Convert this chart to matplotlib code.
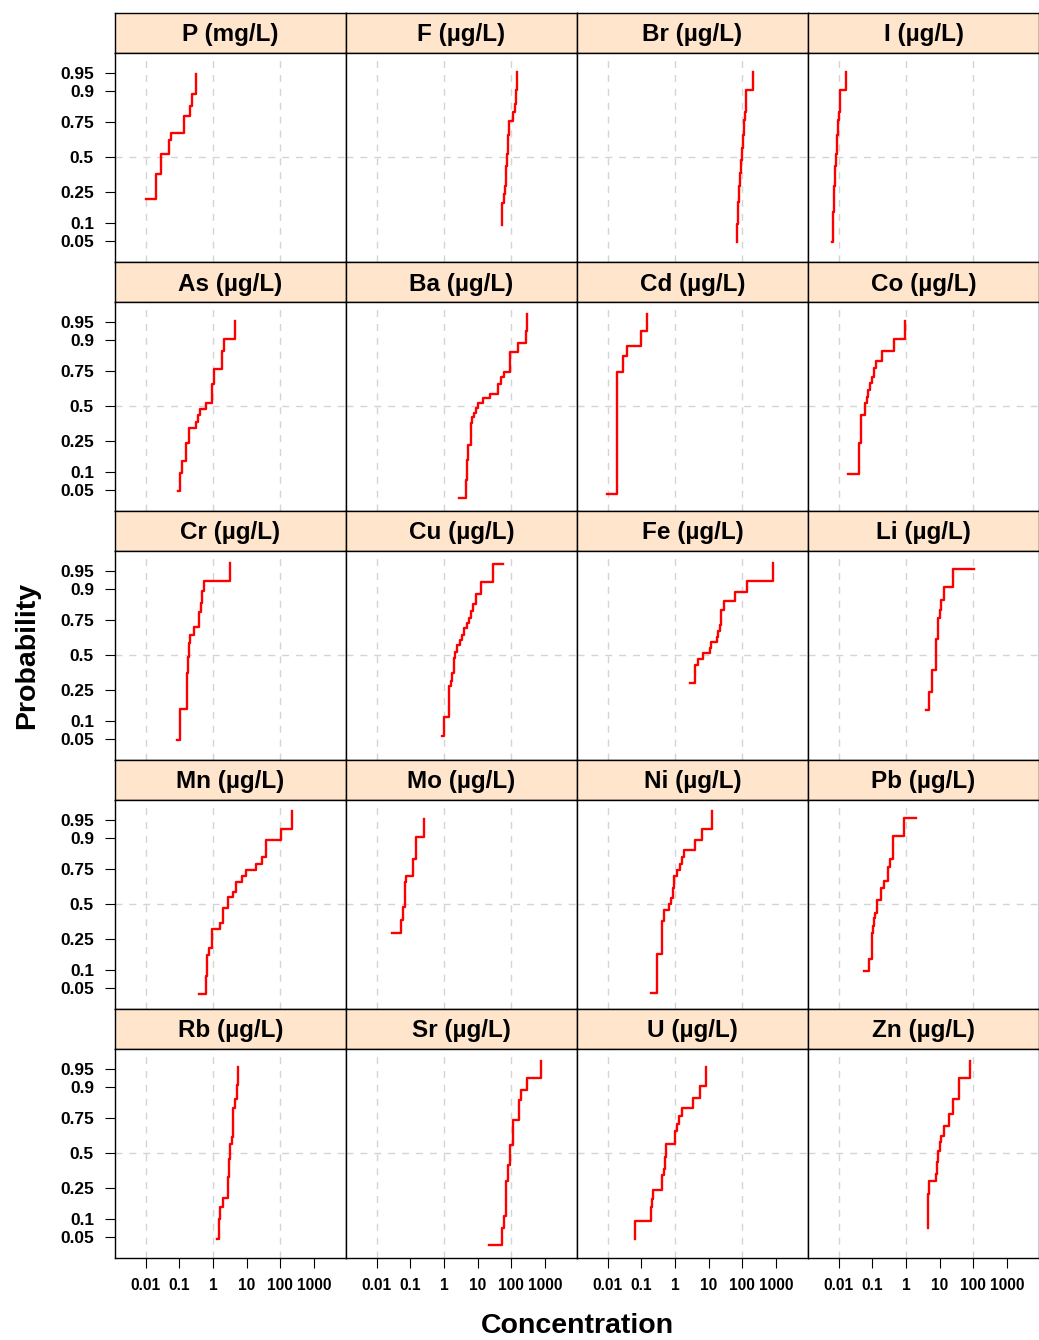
from statistics import NormalDist
import numpy as np
import matplotlib
matplotlib.use("Agg")
import matplotlib.pyplot as plt
from matplotlib.ticker import FixedLocator, NullLocator

plt.rcParams['font.family'] = ['Liberation Sans', 'DejaVu Sans']

# ---- data: step positions (concentration) and cumulative probability after each step ----
P_x = [0.01, 0.02, 0.028, 0.049, 0.059, 0.139, 0.214, 0.234, 0.316]
P_p = [0.207, 0.367, 0.52, 0.63, 0.68, 0.785, 0.838, 0.89, 0.947]
F_x = [52, 53, 60, 66, 68, 70, 72, 74, 76, 78, 80, 83, 85, 88, 116, 129, 138, 151]
F_p = [0.092, 0.186, 0.235, 0.286, 0.333, 0.381, 0.429, 0.476, 0.524, 0.571, 0.619, 0.667,
       0.714, 0.76, 0.807, 0.849, 0.903, 0.951]
Br_x = [68, 72, 74, 77, 79, 82, 85, 88, 91, 95, 98, 101, 104, 108, 111, 116, 120, 126, 209]
Br_p = [0.048, 0.095, 0.143, 0.19, 0.238, 0.286, 0.333, 0.381, 0.429, 0.476, 0.524, 0.571,
        0.619, 0.667, 0.714, 0.762, 0.81, 0.905, 0.952]
I_x = [0.0066, 0.0068, 0.0070, 0.0071, 0.0073, 0.0075, 0.0077, 0.0079, 0.0081, 0.0083, 0.0085,
       0.0087, 0.0089, 0.0092, 0.0095, 0.0099, 0.0103, 0.0107, 0.0112, 0.0165]
I_p = [0.048, 0.095, 0.143, 0.19, 0.238, 0.286, 0.333, 0.381, 0.429, 0.476, 0.524, 0.571,
       0.619, 0.667, 0.714, 0.762, 0.81, 0.857, 0.905, 0.952]
As_x = [0.089, 0.106, 0.122, 0.160, 0.200, 0.308, 0.37, 0.424, 0.62, 0.96, 1.05, 1.85, 2.17, 4.4]
As_p = [0.048, 0.095, 0.143, 0.238, 0.333, 0.381, 0.429, 0.476, 0.524, 0.667, 0.762, 0.857, 0.905, 0.952]
Ba_x = [2.73, 4.6, 4.8, 5.25, 6.2, 6.9, 7.9, 9.3, 10.4, 14.4, 23.6, 41.6, 51, 63, 94, 155, 275, 295]
Ba_p = [0.036, 0.074, 0.145, 0.223, 0.367, 0.417, 0.448, 0.482, 0.521, 0.56, 0.59, 0.667,
        0.713, 0.743, 0.852, 0.89, 0.927, 0.964]
Cd_x = [0.0095, 0.0193, 0.0297, 0.038, 0.097, 0.152]
Cd_p = [0.0425, 0.745, 0.836, 0.88, 0.927, 0.964]
Co_x = [0.0193, 0.041, 0.048, 0.060, 0.069, 0.077, 0.087, 0.101, 0.114, 0.127, 0.20, 0.444, 0.94]
Co_p = [0.094, 0.236, 0.427, 0.526, 0.573, 0.623, 0.676, 0.717, 0.77, 0.812, 0.859, 0.905, 0.952]
Cr_x = [0.0845, 0.106, 0.167, 0.175, 0.187, 0.196, 0.21, 0.269, 0.387, 0.434, 0.486, 0.532, 3.27]
Cr_p = [0.049, 0.148, 0.247, 0.36, 0.487, 0.59, 0.652, 0.704, 0.796, 0.844, 0.892, 0.926, 0.964]
Cu_x = [0.898, 0.98, 1.38, 1.44, 1.58, 1.73, 1.99, 2.13, 2.49, 2.92, 3.5, 4.1, 4.8, 5.4, 6.2,
        7.2, 9.1, 12.5, 28.3, 58]
Cu_p = [0.0565, 0.114, 0.156, 0.272, 0.308, 0.36, 0.474, 0.526, 0.578, 0.615, 0.652, 0.699,
        0.732, 0.764, 0.802, 0.841, 0.884, 0.922, 0.961, 0.961]
Fe_x = [2.86, 4.0, 4.9, 6.9, 11.1, 12.2, 17.6, 19.2, 22, 24.2, 29, 61, 136, 832]
Fe_p = [0.296, 0.422, 0.469, 0.513, 0.552, 0.598, 0.64, 0.683, 0.721, 0.807, 0.852, 0.89, 0.926, 0.964]
Li_x = [3.84, 5.0, 6.0, 7.9, 9.1, 10.2, 11.1, 14, 24.7, 107]
Li_p = [0.141, 0.236, 0.385, 0.62, 0.764, 0.81, 0.859, 0.906, 0.953, 0.953]
Mn_x = [0.378, 0.61, 0.667, 0.765, 0.96, 1.58, 1.99, 2.73, 4.1, 4.9, 7.4, 9.7, 19.2, 29, 38, 106, 229]
Mn_p = [0.039, 0.079, 0.159, 0.196, 0.312, 0.353, 0.471, 0.552, 0.593, 0.667, 0.708, 0.747,
        0.783, 0.819, 0.892, 0.929, 0.965]
Mo_x = [0.0297, 0.0525, 0.0615, 0.069, 0.077, 0.122, 0.152, 0.263]
Mo_p = [0.285, 0.377, 0.474, 0.664, 0.71, 0.809, 0.903, 0.951]
Ni_x = [0.196, 0.288, 0.405, 0.486, 0.682, 0.764, 0.877, 0.96, 1.12, 1.38, 1.58, 1.9, 4.0, 6.3, 12.8]
Ni_p = [0.041, 0.167, 0.37, 0.453, 0.5, 0.544, 0.62, 0.704, 0.743, 0.783, 0.818, 0.855, 0.892, 0.928, 0.965]
Pb_x = [0.0575, 0.081, 0.097, 0.106, 0.114, 0.122, 0.136, 0.179, 0.23, 0.294, 0.337, 0.424, 0.877, 2.03]
Pb_p = [0.095, 0.141, 0.283, 0.336, 0.39, 0.433, 0.531, 0.62, 0.674, 0.764, 0.812, 0.906, 0.953, 0.953]
Rb_x = [1.35, 1.48, 1.58, 1.99, 2.73, 2.99, 3.27, 3.75, 4.1, 4.6, 5.15, 5.5]
Rb_p = [0.047, 0.099, 0.145, 0.189, 0.319, 0.456, 0.573, 0.623, 0.807, 0.853, 0.907, 0.953]
Sr_x = [22.5, 53, 60, 72, 82, 94, 110, 166, 199, 293, 762]
Sr_p = [0.036, 0.071, 0.109, 0.296, 0.405, 0.56, 0.739, 0.849, 0.89, 0.929, 0.964]
U_x = [0.066, 0.067, 0.194, 0.207, 0.224, 0.405, 0.464, 0.508, 0.556, 1.03, 1.15, 1.32, 1.62, 3.35, 5.65, 8.5]
U_p = [0.047, 0.094, 0.145, 0.186, 0.236, 0.331, 0.38, 0.469, 0.573, 0.664, 0.717, 0.764,
       0.807, 0.856, 0.905, 0.953]
Zn_x = [4.45, 4.5, 4.7, 5.0, 7.6, 8.3, 9.1, 10.2, 11.4, 14, 19.2, 24.7, 38.9, 82]
Zn_p = [0.071, 0.145, 0.213, 0.296, 0.343, 0.43, 0.516, 0.585, 0.628, 0.701, 0.779, 0.852, 0.929, 0.964]

titles = ["P (mg/L)", "F (µg/L)", "Br (µg/L)", "I (µg/L)",
          "As (µg/L)", "Ba (µg/L)", "Cd (µg/L)", "Co (µg/L)",
          "Cr (µg/L)", "Cu (µg/L)", "Fe (µg/L)", "Li (µg/L)",
          "Mn (µg/L)", "Mo (µg/L)", "Ni (µg/L)", "Pb (µg/L)",
          "Rb (µg/L)", "Sr (µg/L)", "U (µg/L)", "Zn (µg/L)"]
series = [(P_x, P_p), (F_x, F_p), (Br_x, Br_p), (I_x, I_p),
          (As_x, As_p), (Ba_x, Ba_p), (Cd_x, Cd_p), (Co_x, Co_p),
          (Cr_x, Cr_p), (Cu_x, Cu_p), (Fe_x, Fe_p), (Li_x, Li_p),
          (Mn_x, Mn_p), (Mo_x, Mo_p), (Ni_x, Ni_p), (Pb_x, Pb_p),
          (Rb_x, Rb_p), (Sr_x, Sr_p), (U_x, U_p), (Zn_x, Zn_p)]

prob_ticks = [0.05, 0.1, 0.25, 0.5, 0.75, 0.9, 0.95]
prob_labels = ["0.05", "0.1", "0.25", "0.5", "0.75", "0.9", "0.95"]
conc_ticks = [0.01, 0.1, 1, 10, 100, 1000]
conc_labels = ["0.01", "0.1", "1", "10", "100", "1000"]

# normal-probability scale for y
ND = NormalDist()
_ppf = np.vectorize(ND.inv_cdf, otypes=[float])
_cdf = np.vectorize(ND.cdf, otypes=[float])


def fwd(p):
    return _ppf(np.clip(np.asarray(p, dtype=float), 1e-9, 1 - 1e-9))


def inv(z):
    return _cdf(np.asarray(z, dtype=float))


W, H = 1039, 1340
fig = plt.figure(figsize=(W / 100, H / 100), dpi=100)

X0, CW = 115, 231          # panel grid in pixels
STRIP_TOP, STRIP_H, PLOT_H, ROW = 13, 40, 209, 249
STRIP_COL = "#ffe5cc"
GRID_COL = "#d4d4d4"
RED = "#ff0000"


def frac(x, y, w, h):
    return [x / W, 1 - (y + h) / H, w / W, h / H]


for i, (title, (xs, ps)) in enumerate(zip(titles, series)):
    r, c = divmod(i, 4)
    left = X0 + CW * c
    top = STRIP_TOP + ROW * r

    sax = fig.add_axes(frac(left, top, CW, STRIP_H))
    sax.set_facecolor(STRIP_COL)
    sax.set_xticks([]); sax.set_yticks([])
    for s in sax.spines.values():
        s.set_linewidth(1.0)
    sax.text(0.5, 0.45, title, ha="center", va="center", fontsize=17.5,
             fontweight="bold", transform=sax.transAxes)

    ax = fig.add_axes(frac(left, top + STRIP_H, CW, PLOT_H))
    ax.set_xscale("log")
    ax.set_yscale("function", functions=(fwd, inv))
    ax.set_xlim(0.001236, 9036)
    ax.set_ylim(float(inv(-2.045)), float(inv(2.025)))

    for gx in [0.01, 1, 100]:
        ax.axvline(gx, color=GRID_COL, lw=1.0, dashes=(5, 5), zorder=1)
    ax.axhline(0.5, color=GRID_COL, lw=1.0, dashes=(5, 5), zorder=1)

    ax.step(xs, ps, where="post", color=RED, lw=1.7, zorder=3)

    ax.xaxis.set_major_locator(FixedLocator(conc_ticks))
    ax.xaxis.set_minor_locator(NullLocator())
    ax.yaxis.set_major_locator(FixedLocator(prob_ticks))
    ax.yaxis.set_minor_locator(NullLocator())
    ax.tick_params(axis="both", direction="out", length=7.2, width=0.8, colors="black")
    if r == 4:
        ax.set_xticklabels(conc_labels, fontsize=11.2, fontweight="bold")
        ax.tick_params(axis="x", pad=7.5)
    else:
        ax.tick_params(axis="x", length=0, labelbottom=False)
    if c == 0:
        ax.set_yticklabels(prob_labels, fontsize=12.4, fontweight="bold")
        ax.tick_params(axis="y", pad=8)
    else:
        ax.tick_params(axis="y", length=0, labelleft=False)
    for s in ax.spines.values():
        s.set_linewidth(1.0)

fig.text(27 / W, 1 - 655 / H, "Probability", rotation=90, ha="center", va="center",
         fontsize=20.5, fontweight="bold")
fig.text(577 / W, 1 - 1326 / H, "Concentration", ha="center", va="center",
         fontsize=20.5, fontweight="bold")

fig.savefig("out.png", dpi=100)
